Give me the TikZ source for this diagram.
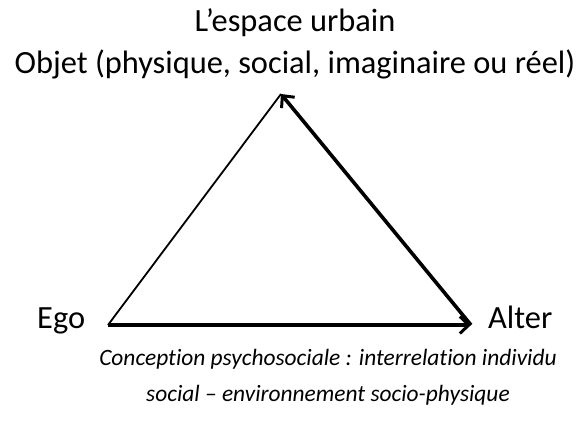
\documentclass[tikz,border=0pt]{standalone}
\usepackage{fontspec}
\setmainfont{Carlito}[Ligatures=NoCommon]
\usepackage{tikz}
\usetikzlibrary{positioning,arrows.meta}

\begin{document}
\begin{tikzpicture}[x=1pt,y=-1pt]
\tikzstyle{every node}+=[inner sep=0pt]
\tikzstyle{lbl}=[font=\fontsize{32.4}{38}\selectfont]
\tikzstyle{legendtxt}=[font=\fontsize{23.4}{28}\selectfont\itshape]
\tikzstyle{fleche}=[line width=3.6pt, -{Straight Barb[length=9pt,width=17pt,line width=3pt]}]
\useasboundingbox (0,0) rectangle (585,423);
% sommets du triangle
\coordinate (objet) at (281,94);
\coordinate (ego) at (108,325);
\coordinate (alter) at (471,325);
% textes
\node[lbl, anchor=base] (titre1) at (295,31) {L’espace urbain};
\node[lbl, anchor=base] (titre2) at (295,73) {Objet (physique, social, imaginaire ou réel)};
\node[lbl, anchor=base west] (egotxt) at (37,328) {Ego};
\node[lbl, anchor=base west] (altertxt) at (488,328) {Alter};
\node[legendtxt, anchor=base] (legende1) at (328,365) {Conception psychosociale : interrelation individu};
\node[legendtxt, anchor=base] (legende2) at (328,401) {social – environnement socio-physique};
% cotes
\draw [line width=1.8pt] (ego) -- (objet);
\draw [fleche] (alter) -- (objet);
\draw [fleche] (ego) -- (alter);
\end{tikzpicture}
\end{document}
